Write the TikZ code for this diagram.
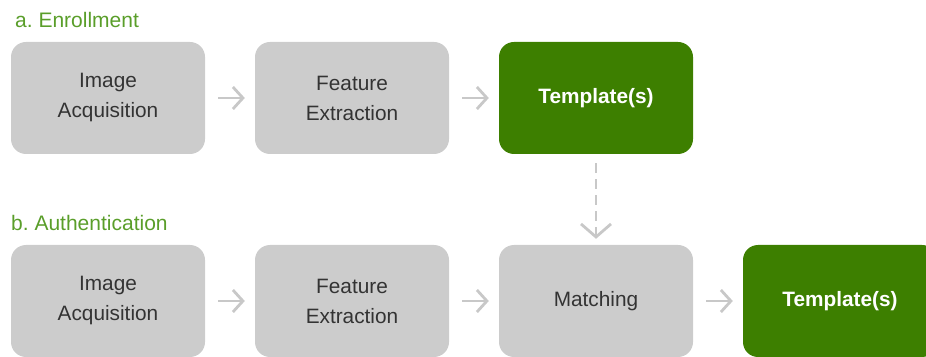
\documentclass[tikz,border=0pt]{standalone}
\usepackage{fontspec}
\setmainfont{Liberation Sans}
\usetikzlibrary{arrows.meta}
\definecolor{boxgrey}{HTML}{CCCCCC}
\definecolor{arrgrey}{HTML}{C8C8C8}
\definecolor{darkgreen}{HTML}{3D7F00}
\definecolor{labgreen}{HTML}{5A9E2A}
\definecolor{txtgrey}{HTML}{333333}
\begin{document}
\begin{tikzpicture}[x=1pt,y=1pt,
  stage/.style={rounded corners=15pt, fill=boxgrey, minimum width=194pt, minimum height=112pt,
     align=center, text=txtgrey, font=\fontsize{20.8}{30}\selectfont, inner sep=0pt},
  result/.style={stage, fill=darkgreen, text=white, font=\fontsize{20.8}{30}\selectfont\bfseries},
  flow/.style={draw=arrgrey, line width=2.8pt, -{Straight Barb[length=10pt, width=22pt, line width=2.8pt]}},
  dflow/.style={draw=arrgrey, line width=2.8pt, dash pattern=on 10pt off 6pt,
     -{Straight Barb[length=13pt, width=30pt, line width=2.8pt]}},
  phase/.style={text=labgreen, font=\fontsize{21}{24}\selectfont, anchor=west, inner sep=0pt}]
\useasboundingbox (0,0) rectangle (926,356);
\begin{scope}
\clip (0,0) rectangle (926,356);
\node[phase] (la) at (15,336) {a.\ Enrollment};
\node[stage] (a1) at (108,258) {Image\\Acquisition};
\node[stage] (a2) at (352,258) {Feature\\Extraction};
\node[result] (a3) at (596,258) {Template(s)};
\node[phase] (lb) at (11,133) {b.\ Authentication};
\node[stage] (b1) at (108,55) {Image\\Acquisition};
\node[stage] (b2) at (352,55) {Feature\\Extraction};
\node[stage] (b3) at (596,55) {Matching};
\node[result] (b4) at (840,55) {Template(s)};
\draw[flow] ([xshift=13pt]a1.east) -- ([xshift=-10pt]a2.west);
\draw[flow] ([xshift=13pt]a2.east) -- ([xshift=-10pt]a3.west);
\draw[flow] ([xshift=13pt]b1.east) -- ([xshift=-10pt]b2.west);
\draw[flow] ([xshift=13pt]b2.east) -- ([xshift=-10pt]b3.west);
\draw[flow] ([xshift=13pt]b3.east) -- ([xshift=-10pt]b4.west);
\draw[dflow] ([yshift=-9pt]a3.south) -- ([yshift=6pt]b3.north);
\end{scope}
\end{tikzpicture}
\end{document}
